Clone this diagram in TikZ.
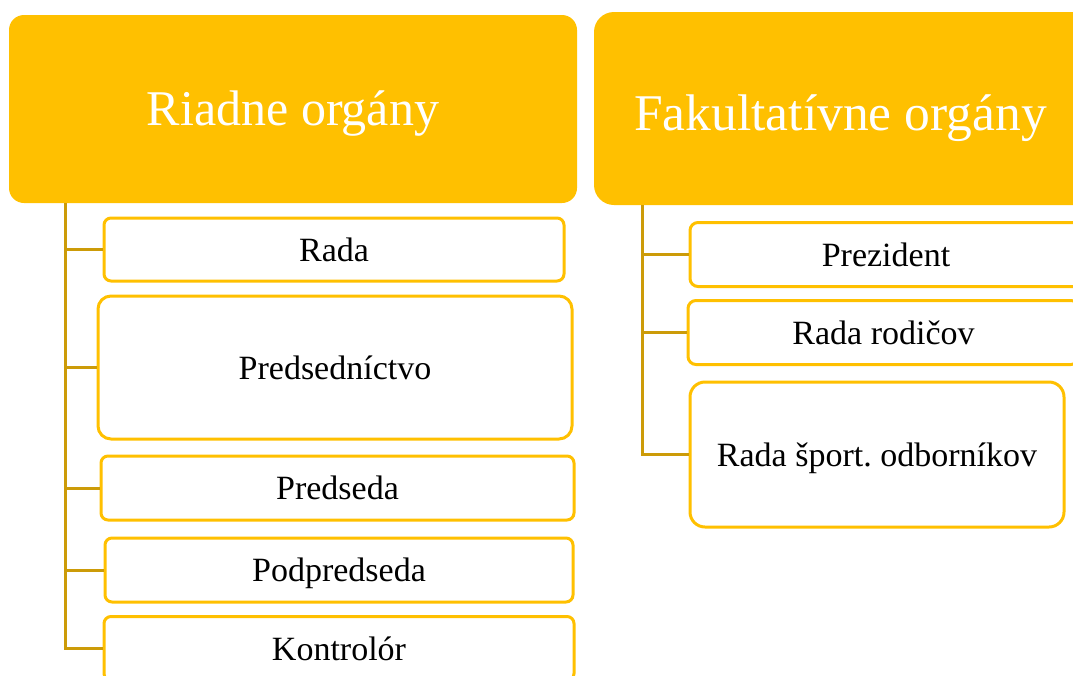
\documentclass[tikz,border=0pt]{standalone}
\usepackage{fontspec}
\setmainfont{Liberation Serif}
\definecolor{gold}{HTML}{FFC000}
\definecolor{conncol}{RGB}{204,155,8}
\tikzset{
  header/.style={fill=gold, draw=none, inner sep=0pt},
  headtext/.style={inner sep=0pt, text=white, text height=40pt, text depth=8pt},
  itembox/.style={draw=gold, line width=3pt, fill=white, inner sep=0pt,
    text=black, font=\fontsize{34}{40}\selectfont, text height=27pt, text depth=4pt},
  conn/.style={draw=conncol, line width=3pt}
}
\begin{document}
\frenchspacing
\begin{tikzpicture}[x=1pt,y=-1pt]
\useasboundingbox (0,0) rectangle (1073,675);
\clip (0,0) rectangle (1073,675);
% headers
\node[header, rounded corners=15pt, minimum width=568pt, minimum height=188pt] (h1) at (293,109) {};
\node[headtext, font=\fontsize{50}{60}\selectfont] (h1t) at (293,109) {Riadne orgány};
\node[header, rounded corners=20pt, minimum width=500pt, minimum height=193pt] (h2) at (844,108.5) {};
\node[headtext, font=\fontsize{51.5}{60}\selectfont] (h2t) at (840.5,114) {Fakultatívne orgány};
% connector roots
\coordinate (r1) at (65,203);
\coordinate (r2) at (642,205);
% left items
\node[itembox, rounded corners=7pt, minimum width=460pt, minimum height=63pt] (rada) at (334,249.5) {Rada};
\node[itembox, rounded corners=13pt, minimum width=474pt, minimum height=143pt] (preds) at (335,367.5) {Predsedníctvo};
\node[itembox, rounded corners=7pt, minimum width=473pt, minimum height=64pt] (predseda) at (337.5,488) {Predseda};
\node[itembox, rounded corners=7pt, minimum width=468pt, minimum height=64pt] (podpr) at (339,570) {Podpredseda};
\node[itembox, rounded corners=7pt, minimum width=470pt, minimum height=64pt] (kontr) at (339,648.5) {Kontrolór};
% right items
\node[itembox, rounded corners=8pt, minimum width=392pt, minimum height=64pt] (prez) at (886,254.5) {Prezident};
\node[itembox, rounded corners=8pt, minimum width=391pt, minimum height=64pt] (rodic) at (883.5,332.5) {Rada rodičov};
\node[itembox, rounded corners=15pt, minimum width=374pt, minimum height=145pt] (sport) at (877,454.5) {Rada šport. odborníkov};
% connectors
\draw[conn] (r1) |- (rada.west);
\draw[conn] (r1) |- (preds.west);
\draw[conn] (r1) |- (predseda.west);
\draw[conn] (r1) |- (podpr.west);
\draw[conn] (r1) |- (kontr.west);
\draw[conn] (r2) |- (prez.west);
\draw[conn] (r2) |- (rodic.west);
\draw[conn] (r2) |- (sport.west);
\end{tikzpicture}
\end{document}
